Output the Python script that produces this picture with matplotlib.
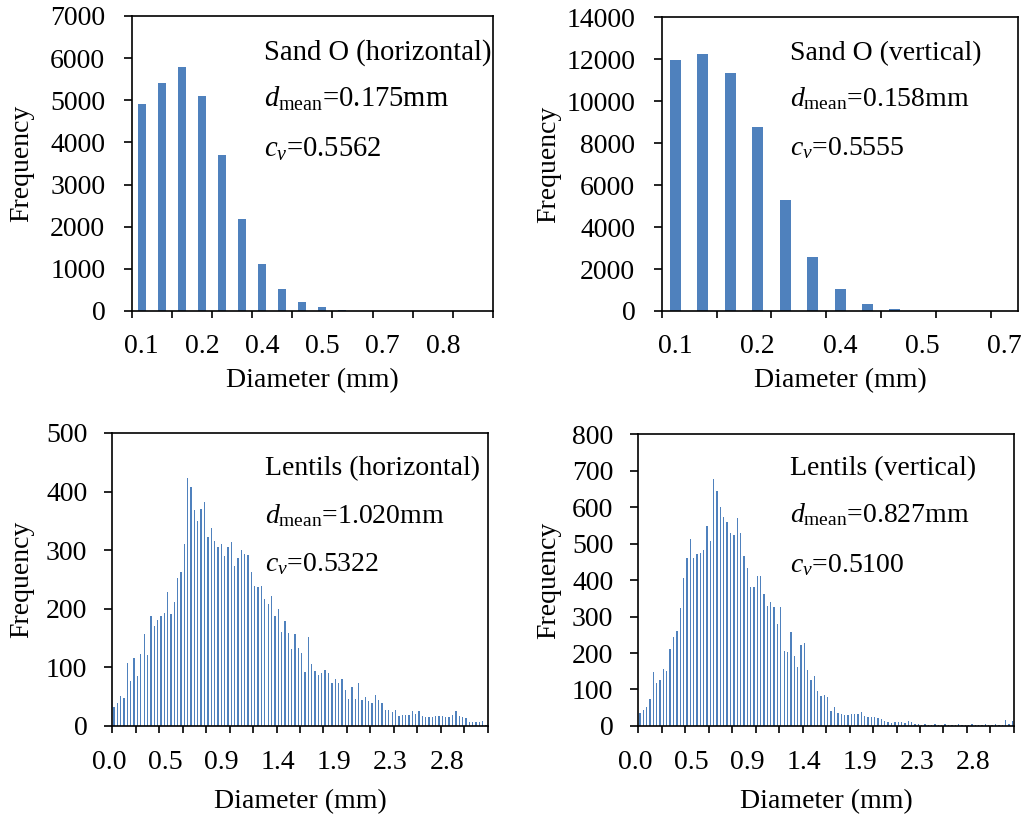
import numpy as np
import matplotlib
matplotlib.use("Agg")
import matplotlib.pyplot as plt
import matplotlib.transforms as mtransforms

plt.rcParams.update({
    "font.family": "Liberation Serif",
    "font.size": 20,
    "mathtext.fontset": "custom",
    "mathtext.rm": "Liberation Serif",
    "mathtext.it": "Liberation Serif:italic",
    "mathtext.bf": "Liberation Serif:bold",
    "axes.linewidth": 1.2,
})

BAR_COLOR = "#4f81bd"

# ---- Sand O: particle counts per size class -------------------------------
sand_h_counts = [4900, 5420, 5790, 5100, 3700, 2190, 1110, 530, 215, 90,
                 25, 5, 2, 1, 0, 0, 0, 0]
sand_h_labels = ["0.1", "0.2", "0.4", "0.5", "0.7", "0.8"]

sand_v_counts = [11950, 12230, 11330, 8770, 5300, 2570, 1030, 330, 95, 20,
                 5, 2, 1]
sand_v_labels = ["0.1", "0.2", "0.4", "0.5", "0.7"]

# ---- Lentils: counts per diameter bin (bin width 1/36 mm) ------------------
lent_h_counts = [
    32, 40, 51, 48, 108, 77, 116, 85, 123, 157,
    121, 188, 170, 181, 187, 193, 228, 191, 212, 252,
    263, 310, 423, 408, 369, 350, 370, 382, 323, 338,
    316, 305, 311, 290, 305, 314, 273, 286, 301, 294,
    292, 263, 239, 237, 239, 217, 208, 222, 188, 199,
    161, 180, 158, 131, 157, 133,
    124, 92, 152, 106, 94, 87, 90, 96, 91, 73,
    80, 74, 80, 61, 46, 66, 46, 73, 44, 49,
    43, 40, 53, 45, 40, 27, 27, 24, 28,
    17, 18, 18, 18, 26, 20, 26, 17, 15, 16,
    15, 17, 17, 17, 16, 15, 18, 26, 17,
    16, 13, 7, 7, 6, 6, 9, 1,
]
lent_v_counts = [
    35, 44, 51, 75, 148, 119, 125, 155, 151, 212,
    245, 261, 324, 406, 459, 512, 459, 471, 474, 482,
    549, 506, 678, 644, 600, 573, 560, 528, 524, 571,
    528, 465, 432, 382, 380, 411, 412, 362, 330, 339,
    325, 280, 325, 205, 202, 257, 193, 162, 223, 228,
    153, 125, 137, 95, 82, 85,
    80, 42, 53, 35, 33, 30, 30, 32, 32, 33,
    37, 27, 26, 25, 25, 21, 19, 15, 10, 7,
    11, 11, 12, 9, 13, 10, 6, 5,
    4, 5, 3, 4, 5, 4, 3, 5, 4, 3, 4, 6, 3, 4, 3, 5, 4, 3, 4, 5, 3, 4, 6, 3, 2,
    16, 6, 15,
]
LENTIL_BIN = 1.0 / 36.0
lent_centers = (np.arange(len(lent_h_counts)) + 1.5) * LENTIL_BIN
lent_tick_values = [0.0, 7 / 15, 14 / 15, 1.4, 28 / 15, 35 / 15, 2.8]

# ---- statistics printed in each panel ---------------------------------------
notes = {
    "sand_h": ["Sand O (horizontal)", r"$d_{\mathrm{mean}}$=0.175mm", r"$c_{v}$=0.5562"],
    "sand_v": ["Sand O (vertical)", r"$d_{\mathrm{mean}}$=0.158mm", r"$c_{v}$=0.5555"],
    "lent_h": ["Lentils (horizontal)", r"$d_{\mathrm{mean}}$=1.020mm", r"$c_{v}$=0.5322"],
    "lent_v": ["Lentils (vertical)", r"$d_{\mathrm{mean}}$=0.827mm", r"$c_{v}$=0.5100"],
}

fig = plt.figure(figsize=(10.25, 8.16), dpi=100)
ax_sh = fig.add_axes([0.1285, 0.6189, 0.3525, 0.3615])
ax_sv = fig.add_axes([0.6456, 0.6189, 0.3479, 0.3599])
ax_lh = fig.add_axes([0.1096, 0.1103, 0.3662, 0.3591])
ax_lv = fig.add_axes([0.6227, 0.1103, 0.3665, 0.3578])


def common_style(ax, ypad):
    for s in ax.spines.values():
        s.set_linewidth(1.2)
        s.set_color("black")
    ax.tick_params(axis="y", direction="out", length=6, width=1.2,
                   pad=ypad, labelsize=20)
    ax.tick_params(axis="x", which="major", direction="out", length=5,
                   width=1.2)


def add_notes(ax, lines, x, ys, size=20):
    for txt, y in zip(lines, ys):
        ax.text(x, y, txt, transform=ax.transAxes, fontsize=size,
                ha="left", va="baseline")


def axis_titles(ax, xl_y, yl_x):
    ax.set_xlabel("Diameter (mm)", fontsize=20)
    ax.xaxis.set_label_coords(0.5, xl_y)
    ax.xaxis.label.set_va("baseline")
    ax.set_ylabel("Frequency", fontsize=20)
    ax.yaxis.set_label_coords(yl_x, 0.5)
    ax.yaxis.label.set_va("center")


def sand_panel(ax, counts, labels, ymax, ystep):
    idx = np.arange(len(counts))
    ax.bar(idx, counts, width=0.4, color=BAR_COLOR, linewidth=0)
    ax.set_xlim(-0.5, len(counts) - 0.5)
    ax.set_ylim(0, ymax)
    ax.set_yticks(np.arange(0, ymax + 1, ystep))
    ax.set_xticks(np.arange(-0.5, len(counts) - 0.5 + 1e-6, 2))
    ax.set_xticklabels([])
    ax.set_xticks(np.arange(len(labels)) * 3, minor=True)
    ax.set_xticklabels(labels, minor=True)
    ax.tick_params(axis="x", which="minor", length=0, pad=16.5, labelsize=20)
    common_style(ax, 13)


def lentil_panel(ax, counts, ymax, ystep):
    ax.bar(lent_centers, counts, width=0.4 * LENTIL_BIN, color=BAR_COLOR,
           linewidth=0)
    x0 = lent_centers[0] - 0.5 * LENTIL_BIN
    x1 = lent_centers[-1] + 0.5 * LENTIL_BIN
    ax.set_xlim(x0, x1)
    ax.set_ylim(0, ymax)
    ax.set_yticks(np.arange(0, ymax + 1, ystep))
    ax.set_xticks(np.arange(x0, x1 + 1e-6, 7 * LENTIL_BIN))
    ax.set_xticklabels([])
    common_style(ax, 12)
    trans = mtransforms.blended_transform_factory(ax.transData, ax.transAxes)
    for v in lent_tick_values:
        ax.text(v, -0.1468, f"{v:.1f}", transform=trans, fontsize=20,
                ha="center", va="baseline", clip_on=False)


sand_panel(ax_sh, sand_h_counts, sand_h_labels, 7000, 1000)
sand_panel(ax_sv, sand_v_counts, sand_v_labels, 14000, 2000)
lentil_panel(ax_lh, lent_h_counts, 500, 100)
lentil_panel(ax_lv, lent_v_counts, 800, 100)

add_notes(ax_sh, notes["sand_h"], 0.367, [0.851, 0.692, 0.522], size=20.6)
add_notes(ax_sv, notes["sand_v"], 0.360, [0.855, 0.696, 0.531])
add_notes(ax_lh, notes["lent_h"], 0.407, [0.857, 0.692, 0.527])
add_notes(ax_lv, notes["lent_v"], 0.404, [0.860, 0.699, 0.527])

axis_titles(ax_sh, -0.2586, -0.3036)
axis_titles(ax_sv, -0.2588, -0.316)
axis_titles(ax_lh, -0.281, -0.2405)
axis_titles(ax_lv, -0.281, -0.2377)

fig.savefig("out.png", dpi=100)
